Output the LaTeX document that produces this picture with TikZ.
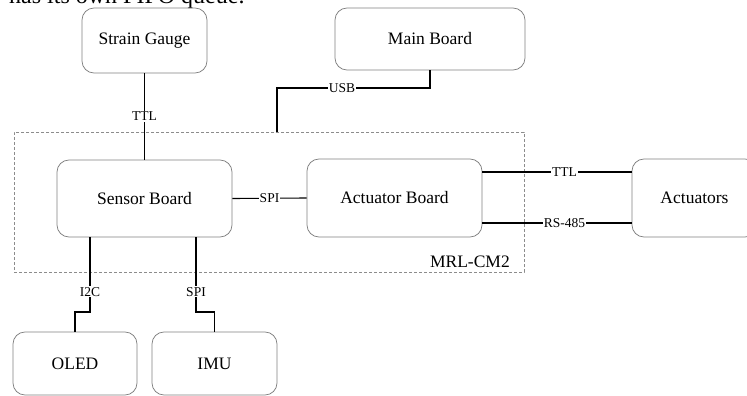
\documentclass[tikz,border=0pt]{standalone}
\usepackage{fontspec}
\setmainfont{Liberation Serif}
\begin{document}
\begin{tikzpicture}[x=1pt,y=-1pt,
  box/.style={draw=black!50, line width=0.75pt, rounded corners=12pt, inner sep=0pt, font=\fontsize{17.5}{21}\selectfont},
  wire/.style={draw=black, line width=1.1pt},
  lbl/.style={fill=white, inner sep=1pt, font=\fontsize{13.5}{16}\selectfont},
  grp/.style={draw=black!45, dash pattern=on 3pt off 2pt, line width=0.7pt, inner sep=0pt}]
\useasboundingbox (0,0) rectangle (747,396);
\clip (0,0) rectangle (747,396);

\node[anchor=base west, font=\fontsize{24}{28}\selectfont, inner sep=0pt] (toptext) at (9,4) {has its own FIFO queue.};

\node[box, minimum width=125pt, minimum height=65pt] (strain) at (144.5,40.5) {Strain Gauge};
\node[box, minimum width=190pt, minimum height=62pt] (main) at (430,39) {Main Board};
\node[grp, minimum width=510pt, minimum height=140pt] (mrl) at (269,202) {};
\node[anchor=base east, inner sep=0pt, font=\fontsize{17.5}{21}\selectfont] (mrllbl) at (510,267) {MRL-CM2};
\node[box, fill=white, minimum width=175pt, minimum height=77pt] (sensor) at (144.5,198.5) {Sensor Board};
\node[box, fill=white, minimum width=175pt, minimum height=78pt] (act) at (394.5,198) {Actuator Board};
\node[box, minimum width=125pt, minimum height=78pt] (acts) at (694.5,198) {Actuators};
\node[box, minimum width=124pt, minimum height=63pt] (oled) at (75,363.5) {OLED};
\node[box, minimum width=125pt, minimum height=63pt] (imu) at (214.5,363.5) {IMU};

\draw[wire] (strain.south) -- node[lbl]{TTL} (sensor.north);

\coordinate (u1) at (430,88);
\coordinate (u2) at (277,88);
\draw[wire] (main.south) -- (u1) -- node[lbl,pos=0.575]{USB} (u2) -- (u2 |- mrl.north);

\draw[wire] (sensor.east) -- node[lbl]{SPI} (act.west);
\draw[wire] (act.east |- 0,172) -- node[lbl,pos=0.55]{TTL} (acts.west |- 0,172);
\draw[wire] (act.east |- 0,223) -- node[lbl,pos=0.55]{RS-485} (acts.west |- 0,223);

\coordinate (i1) at (90,312);
\coordinate (i2) at (75,312);
\draw[wire] (sensor.south -| i1) -- node[lbl,pos=0.73]{I2C} (i1) -- (i2) -- (oled.north);

\coordinate (s1) at (196,312);
\coordinate (s2) at (214.5,312);
\draw[wire] (sensor.south -| s1) -- node[lbl,pos=0.73]{SPI} (s1) -- (s2) -- (imu.north);
\end{tikzpicture}
\end{document}
